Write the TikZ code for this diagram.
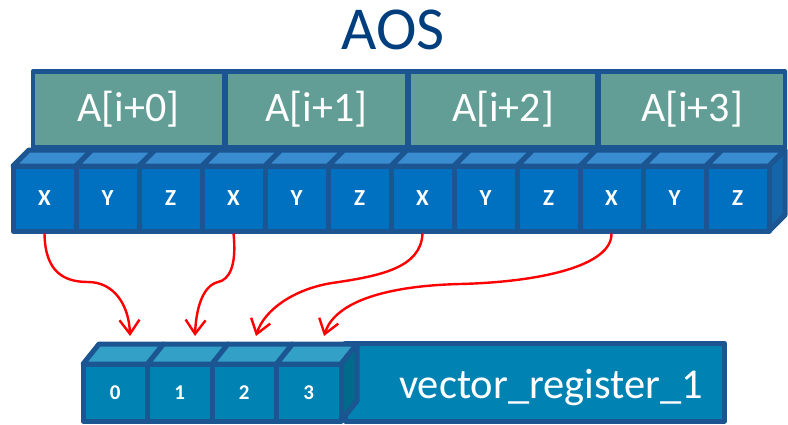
\documentclass[tikz,border=0pt]{standalone}
\usepackage{fontspec}
\setmainfont{Carlito}
\usetikzlibrary{arrows.meta}

\definecolor{edge}{HTML}{1B5692}
\definecolor{titleblue}{HTML}{003E7E}
\definecolor{afill}{HTML}{629E96}
\definecolor{cfront}{HTML}{0070C0}
\definecolor{ctop}{HTML}{3A8CD0}
\definecolor{cside}{HTML}{1565A8}
\definecolor{rfront}{HTML}{0083B3}
\definecolor{rtop}{HTML}{33A0C8}
\definecolor{rside}{HTML}{006A8A}
\definecolor{arrowred}{HTML}{FF0000}

\begin{document}
\begin{tikzpicture}[x=1pt,y=-1pt,
  titletext/.style={text=titleblue,font=\fontsize{61}{64}\selectfont},
  abox/.style={fill=afill,text=white,minimum height=71pt,inner sep=0pt,
    font=\fontsize{42}{46}\selectfont},
  cubeface/.style={draw=edge,line width=5pt,line join=round},
  cellnode/.style={cubeface,fill=cfront,text=white,minimum width=63pt,
    minimum height=66pt,inner sep=0pt,font=\bfseries\fontsize{23}{26}\selectfont},
  regcell/.style={cubeface,fill=rfront,text=white,minimum width=64.5pt,
    minimum height=57pt,inner sep=0pt,font=\bfseries\fontsize{21}{24}\selectfont},
  gather/.style={draw=arrowred,line width=2.4pt,
    -{Straight Barb[length=14pt,width=20pt,line width=2.4pt]}},
]
\useasboundingbox (0,0) rectangle (788,424);

% title
\node[titletext,anchor=base] (ttl) at (393,49) {AOS};

% structure row A[i+k]
\fill[edge,rounded corners=2pt] (31,69) rectangle (787,150);
\node[abox,minimum width=187pt] (a0) at (128.5,109.5) {A[i+0]};
\node[abox,minimum width=177pt] (a1) at (316.5,109.5) {A[i+1]};
\node[abox,minimum width=184pt] (a2) at (503,109.5) {A[i+2]};
\node[abox,minimum width=182pt] (a3) at (692,109.5) {A[i+3]};

% row of X/Y/Z cubes: top faces, end face, front faces
\foreach \i in {0,...,11} {
  \pgfmathsetmacro\xa{13+63*\i}
  \pgfmathsetmacro\xb{76+63*\i}
  \filldraw[cubeface,fill=ctop] (\xa,166) -- (\xa+16,150) -- (\xb+16,150) -- (\xb,166) -- cycle;
}
\filldraw[cubeface,fill=cside] (769,166) -- (785,150) -- (785,215) -- (769,231) -- cycle;
\foreach \t [count=\n] in {X,Y,Z,X,Y,Z,X,Y,Z,X,Y,Z} {
  \pgfmathsetmacro\i{\n-1}
  \pgfmathsetmacro\xc{44.5+63*\i}
  \node[cellnode,minimum height=65pt] (c\n) at (\xc,198.5) {\t};
}

% vector register
\filldraw[cubeface,fill=rfront] (345,343) rectangle (724,421);
\node[text=white,anchor=base,font=\fontsize{42.5}{46}\selectfont] (vr) at (551,398) {vector\_register\_1};
\foreach \i in {0,...,3} {
  \pgfmathsetmacro\xa{83+64.5*\i}
  \pgfmathsetmacro\xb{147.5+64.5*\i}
  \filldraw[cubeface,fill=rtop] (\xa,364) -- (\xa+16,344) -- (\xb+16,344) -- (\xb,364) -- cycle;
}
\filldraw[cubeface,fill=rside] (341,364) -- (357,344) -- (357,401) -- (341,421) -- cycle;
\foreach \n in {0,...,3} {
  \pgfmathsetmacro\xc{115.25+64.5*\n}
  \node[regcell] (r\n) at (\xc,392.5) {\n};
}

% arrow end points
\coordinate (t0) at (130,336);
\coordinate (t1) at (195,336);
\coordinate (t2) at (256,336);
\coordinate (t3) at (324,336);

% gather arrows from the X cells into the register lanes
\draw[gather] (c1.south) .. controls (45,272) and (64,282) .. (88,282)
  .. controls (114,282) and (129,305) .. (t0);
\draw[gather] (c4.south) .. controls (237,266) and (229,280) .. (218,282)
  .. controls (202,286) and (196,310) .. (t1);
\draw[gather] (c7.south) .. controls (421,268) and (380,276) .. (332,283)
  .. controls (294,289) and (264,310) .. (t2);
\draw[gather] (c10.south) .. controls (612,266) and (540,282) .. (460,284)
  .. controls (380,286) and (334,304) .. (t3);
\end{tikzpicture}
\end{document}
